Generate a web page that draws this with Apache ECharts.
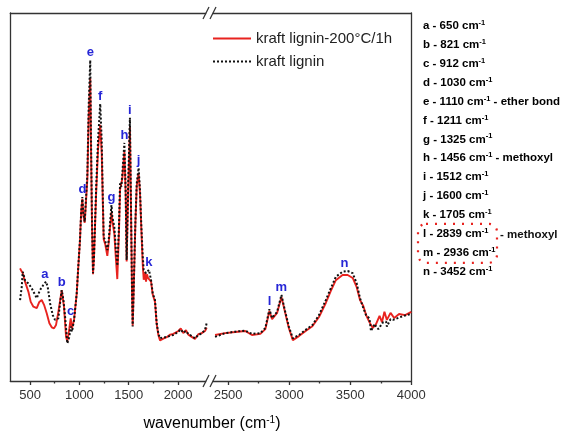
<!DOCTYPE html>
<html><head><meta charset="utf-8">
<script src="https://cdn.jsdelivr.net/npm/echarts@6/dist/echarts.min.js"></script>
<style>html,body{margin:0;padding:0;background:#fff}#c{width:564px;height:433px}</style>
</head><body><div id="c"></div>
<script>
// ---------- DATA ----------
const seriesNames = ['kraft lignin-200°C/1h', 'kraft lignin'];

// treated lignin (red)  [wavenumber, absorbance a.u.]
const kraft200 = [
 [399,30.6],[410,30.0],[426,29.3],[449,27.0],[483,24.3],[507,21.5],[534,20.2],[568,19.8],[594,21.5],[618,22.0],
 [642,20.7],[669,18.4],[696,15.7],[720,14.6],[743,14.3],[763,15.2],[787,18.8],[821,24.7],[844,20.2],[865,12.0],
 [878,10.7],[898,14.3],[912,17.0],[925,14.3],[946,16.6],[973,23.8],[989,31.1],[1006,38.3],[1018,46.0],[1030,49.5],
 [1040,45.0],[1054,43.0],[1067,43.5],[1081,55.0],[1094,71.5],[1110,82.3],[1118,63.0],[1128,42.0],[1138,29.0],[1148,33.5],
 [1169,50.5],[1189,63.0],[1211,69.6],[1226,62.0],[1236,50.0],[1246,38.5],[1263,37.0],[1283,34.0],[1297,37.5],[1325,45.9],
 [1334,43.5],[1354,40.0],[1368,34.0],[1384,27.7],[1401,40.5],[1412,52.0],[1425,51.5],[1435,55.0],[1456,62.2],[1469,50.5],
 [1479,32.5],[1493,50.5],[1512,69.0],[1523,46.5],[1533,24.5],[1540,15.0],[1550,24.5],[1567,42.5],[1581,53.0],[1600,56.5],
 [1614,51.0],[1628,41.0],[1642,31.5],[1652,27.5],[1665,29.5],[1675,27.0],[1685,29.0],[1695,28.0],[1705,28.5],[1726,27.0],
 [1743,23.5],[1766,21.5],[1783,15.5],[1800,12.5],[1817,11.0],[1850,11.5],[1885,11.9],[1920,12.6],[1952,12.8],[2003,13.6],
 [2027,14.3],[2053,13.0],[2080,13.8],[2104,12.6],[2138,12.0],[2171,11.4],[2205,12.7],[2239,13.0],[2273,13.6],[2290,14.5],
 [2393,12.5],[2475,13.0],[2558,13.3],[2640,13.6],[2695,12.5],[2764,12.8],[2805,14.1],[2838,19.0],[2860,16.8],[2901,18.5],
 [2937,22.8],[2964,19.0],[2997,14.4],[3030,11.1],[3080,12.2],[3135,13.6],[3190,14.9],[3244,17.4],[3300,21.2],[3341,24.5],
 [3382,27.4],[3437,28.8],[3479,28.8],[3520,28.0],[3553,25.5],[3580,22.0],[3595,21.5],[3607,20.4],[3630,17.9],[3657,16.0],
 [3685,14.4],[3712,15.5],[3740,17.7],[3760,16.0],[3780,18.8],[3800,16.6],[3830,18.5],[3860,17.1],[3900,18.2],[3950,17.9],
 [4000,18.8]
];

// untreated kraft lignin (black dotted)
const kraft = [
 [399,22.0],[416,25.6],[426,29.7],[449,27.4],[483,26.5],[517,25.2],[551,23.4],[568,22.5],[601,24.7],[635,26.1],
 [662,27.0],[679,25.6],[703,21.1],[730,17.9],[753,16.6],[787,17.0],[804,21.1],[821,24.7],[838,22.0],[855,17.5],
 [878,10.2],[898,12.0],[912,14.8],[925,13.4],[946,16.6],[973,23.8],[989,31.1],[1006,38.3],[1018,46.0],[1030,50.0],
 [1040,45.6],[1054,43.3],[1067,43.8],[1081,56.4],[1094,74.5],[1110,87.2],[1118,65.5],[1128,42.9],[1138,29.3],[1148,33.8],
 [1169,51.9],[1189,65.5],[1211,75.3],[1226,65.5],[1236,51.9],[1246,39.2],[1263,37.9],[1283,35.6],[1297,38.3],[1325,47.8],
 [1334,44.6],[1354,41.9],[1368,36.5],[1384,31.3],[1401,41.9],[1412,53.7],[1425,52.8],[1435,56.4],[1456,64.7],[1469,51.9],
 [1479,32.9],[1493,51.9],[1512,71.5],[1523,47.4],[1533,24.7],[1540,14.8],[1550,24.7],[1567,42.9],[1581,53.7],[1600,57.9],
 [1614,51.9],[1628,41.9],[1642,33.8],[1652,30.2],[1675,29.3],[1695,29.7],[1705,30.2],[1726,27.4],[1743,23.8],[1766,22.0],
 [1783,15.7],[1800,12.9],[1817,11.6],[1850,11.9],[1885,11.9],[1920,12.3],[1952,12.5],[2003,13.4],[2027,14.0],[2053,13.1],
 [2080,13.6],[2104,12.8],[2138,12.2],[2171,11.6],[2205,12.5],[2239,12.9],[2273,13.9],[2290,15.8],
 [2393,12.0],[2475,13.0],[2558,13.4],[2640,13.7],[2695,12.8],[2764,13.0],[2805,14.4],[2838,19.5],[2860,17.1],[2901,18.8],
 [2937,23.4],[2964,19.3],[2997,14.8],[3030,11.6],[3080,12.5],[3135,13.9],[3190,15.2],[3244,17.9],[3300,22.0],[3341,25.2],
 [3382,28.3],[3437,29.7],[3479,29.9],[3520,29.3],[3553,26.5],[3580,22.5],[3607,19.8],[3630,17.9],[3657,17.0],[3670,13.6],
 [3685,13.9],[3700,15.5],[3712,14.8],[3730,14.1],[3753,15.2],[3770,16.0],[3794,16.1],[3800,14.8],[3830,16.8],[3850,16.6],
 [3904,17.3],[3959,17.9],[4000,18.2]
];

// axis ranges and ticks (broken x axis)
const leftRange = [300, 2300];
const rightRange = [2350, 4000];
const leftMajorTicks = [500, 1000, 1500, 2000];
const leftMinorTicks = [750, 1250, 1750];
const rightMajorTicks = [2500, 3000, 3500, 4000];
const rightMinorTicks = [2750, 3250, 3750];

// peak annotations
const peakLetters = ['a','b','c','d','e','f','g','h','i','j','k','l','m','n'];
const peakWavenumbers = [650, 821, 912, 1030, 1110, 1211, 1325, 1456, 1512, 1600, 1705, 2839, 2936, 3452];
const peakNotes = ['', '', '', '', 'ether bond', '', '', 'methoxyl', '', '', '', '', '', ''];
const groupNote = 'methoxyl'; // for l + m

// ---------- BUILD ----------
const FONT = 'Liberation Sans, Arial, sans-serif';
const BLUE = '#2626d6';
const RED = '#e8231f';

const inLeft = p => p[0] <= leftRange[1];
const inRight = p => p[0] >= rightRange[0];

function peakValue(w) {
  const win = w > 3000 ? 35 : 15;
  let best = 0;
  [kraft200, kraft].forEach(arr => arr.forEach(p => {
    if (Math.abs(p[0] - w) <= win && p[1] > best) best = p[1];
  }));
  return best;
}
function markData(filterFn) {
  return peakLetters.map((l, i) => ({ name: l, coord: [peakWavenumbers[i], peakValue(peakWavenumbers[i])] }))
    .filter(d => filterFn([d.coord[0]]));
}
const markCfg = filt => ({
  symbol: 'circle', symbolSize: 0, silent: true, animation: false,
  label: { show: true, position: 'top', distance: 1, formatter: p => p.name,
           color: BLUE, fontWeight: 'bold', fontSize: 13, fontFamily: FONT },
  data: markData(filt)
});

const axisLineStyle = { color: '#333', width: 1.3 };
function xAxes(gridIndex, range, major, minor) {
  return [
    { gridIndex, type: 'value', min: range[0], max: range[1], position: 'bottom',
      axisLine: { show: true, onZero: false, lineStyle: axisLineStyle },
      axisTick: { show: true, inside: false, length: 4, customValues: major, lineStyle: axisLineStyle },
      axisLabel: { show: true, customValues: major, margin: 8, color: '#333', fontSize: 13, fontFamily: FONT,
                   formatter: v => String(v) },
      splitLine: { show: false } },
    { gridIndex, type: 'value', min: range[0], max: range[1], position: 'bottom',
      axisLine: { show: false, onZero: false },
      axisTick: { show: true, length: 2.5, customValues: minor, lineStyle: axisLineStyle },
      axisLabel: { show: false }, splitLine: { show: false } },
    { gridIndex, type: 'value', min: range[0], max: range[1], position: 'top',
      axisLine: { show: true, onZero: false, lineStyle: axisLineStyle },
      axisTick: { show: false }, axisLabel: { show: false }, splitLine: { show: false } }
  ];
}
function yAxis(gridIndex, position) {
  return { gridIndex, type: 'value', min: 0, max: 100, position,
    axisLine: { show: true, onZero: false, lineStyle: axisLineStyle },
    axisTick: { show: false }, axisLabel: { show: false }, splitLine: { show: false } };
}

const listRich = {
  k: { fontWeight: 'bold', fontSize: 11.5, color: '#111', fontFamily: FONT, lineHeight: 14 },
  v: { fontWeight: 'bold', fontSize: 11.5, color: BLUE, fontFamily: FONT, lineHeight: 14 },
  s: { fontWeight: 'bold', fontSize: 7.5, color: BLUE, fontFamily: FONT, verticalAlign: 'top', lineHeight: 14 }
};
const listTop = 26, listStep = 18.9, listX = 423;
const listTexts = peakLetters.map((l, i) => ({
  type: 'text', x: listX, y: listTop + i * listStep, z: 100,
  style: {
    text: '{k|' + l + ' - }{v|' + peakWavenumbers[i] + ' cm}{s|-1}' + (peakNotes[i] ? '{k| - ' + peakNotes[i] + '}' : ''),
    rich: listRich, verticalAlign: 'middle', align: 'left'
  }
}));
const lIdx = peakLetters.indexOf('l'), mIdx = peakLetters.indexOf('m');
const groupY = listTop + lIdx * listStep;

const breakMarks = [];
[13, 381].forEach(yy => {
  breakMarks.push({ type: 'rect', z: 99, shape: { x: 206.2, y: yy - 2, width: 6.5, height: 4 }, style: { fill: '#fff' } });
  breakMarks.push({ type: 'line', z: 100, shape: { x1: 203, y1: yy + 6, x2: 209, y2: yy - 6 }, style: { stroke: '#333', lineWidth: 1.3 } });
  breakMarks.push({ type: 'line', z: 100, shape: { x1: 210, y1: yy + 6, x2: 216, y2: yy - 6 }, style: { stroke: '#333', lineWidth: 1.3 } });
});

const chart = echarts.init(document.getElementById('c'), null, { renderer: 'canvas' });
chart.setOption({
  animation: false,
  backgroundColor: '#fff',
  grid: [
    { left: 10.3, top: 13, width: 197.4, height: 368 },
    { left: 209.8, top: 13, width: 201.5, height: 368 }
  ],
  xAxis: [].concat(xAxes(0, leftRange, leftMajorTicks, leftMinorTicks),
                   xAxes(1, rightRange, rightMajorTicks, rightMinorTicks)),
  yAxis: [yAxis(0, 'left'), yAxis(1, 'right')],
  legend: {
    data: seriesNames, orient: 'vertical', left: 207, top: 26,
    itemWidth: 38, itemHeight: 14, itemGap: 8,
    itemStyle: { opacity: 0 },
    textStyle: { fontSize: 15, color: '#222', fontFamily: FONT }
  },
  series: [
    { name: seriesNames[0], type: 'line', xAxisIndex: 0, yAxisIndex: 0, data: kraft200.filter(inLeft),
      showSymbol: false, symbol: 'none', lineStyle: { color: RED, width: 1.9 }, itemStyle: { color: RED }, z: 2 },
    { name: seriesNames[1], type: 'line', xAxisIndex: 0, yAxisIndex: 0, data: kraft.filter(inLeft),
      showSymbol: false, symbol: 'none', lineStyle: { color: '#111', width: 2, type: [2, 2] }, itemStyle: { color: '#111' }, z: 3,
      markPoint: markCfg(inLeft) },
    { name: seriesNames[0], type: 'line', xAxisIndex: 3, yAxisIndex: 1, data: kraft200.filter(inRight),
      showSymbol: false, symbol: 'none', lineStyle: { color: RED, width: 1.9 }, itemStyle: { color: RED }, z: 2 },
    { name: seriesNames[1], type: 'line', xAxisIndex: 3, yAxisIndex: 1, data: kraft.filter(inRight),
      showSymbol: false, symbol: 'none', lineStyle: { color: '#111', width: 2, type: [2, 2] }, itemStyle: { color: '#111' }, z: 3,
      markPoint: markCfg(inRight) }
  ],
  graphic: [].concat(breakMarks, listTexts, [
    { type: 'rect', z: 100, shape: { x: 418, y: groupY - 10, width: 79, height: (mIdx - lIdx) * listStep + 20, r: 8 },
      style: { fill: 'none', stroke: RED, lineWidth: 2.2, lineDash: [2, 7] } },
    { type: 'text', z: 100, x: 500, y: groupY + 1, style: { text: '- ' + groupNote, fontWeight: 'bold', fontSize: 11.5,
      fontFamily: FONT, fill: '#111', verticalAlign: 'middle', align: 'left' } },
    { type: 'text', z: 100, x: 212, y: 424, style: {
      text: '{n|wavenumber (cm}{s|-1}{n|)}', align: 'center', verticalAlign: 'middle',
      rich: { n: { fontSize: 16, fontFamily: FONT, color: '#222', lineHeight: 18 },
              s: { fontSize: 10, fontFamily: FONT, color: '#222', verticalAlign: 'top', lineHeight: 18 } } } }
  ])
});
</script></body></html>
